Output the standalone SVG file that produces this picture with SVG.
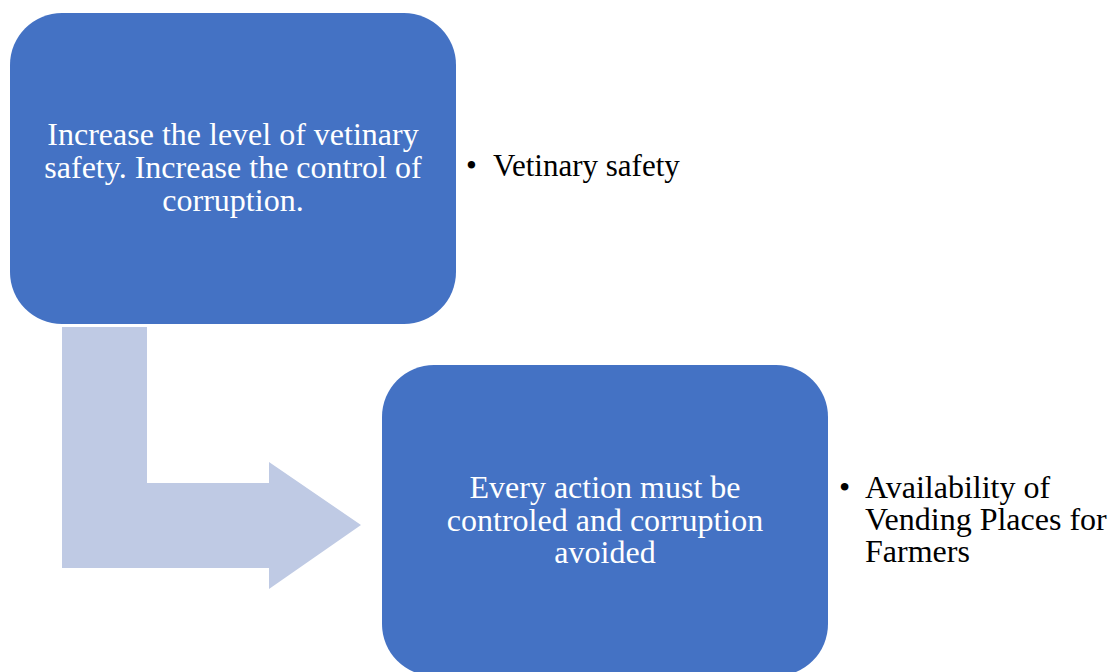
<svg xmlns="http://www.w3.org/2000/svg" width="1112" height="672" viewBox="0 0 1112 672">
<style>
.box{fill:#4472C4;}
.arrow{fill:#BFCAE4;}
.t{font-family:"Liberation Serif","Times New Roman",serif;font-size:32px;fill:#FFFFFF;text-anchor:middle;}
.b{font-family:"Liberation Serif","Times New Roman",serif;font-size:32px;fill:#000000;}
</style>
<rect width="1112" height="672" fill="#FFFFFF"/>
<g id="connectors">
<path class="arrow" d="M62,327 H147 V483 H269 V462 L361,525 L269,589 V568 H62 Z"/>
</g>
<g id="node1">
<rect class="box" x="10" y="13" width="446" height="311" rx="52" ry="52"/>
<text class="t" x="233" y="145">Increase the level of vetinary</text>
<text class="t" x="233" y="178">safety. Increase the control of</text>
<text class="t" x="233" y="211">corruption.</text>
</g>
<g id="bullet1">
<text class="b" x="466" y="176" style="font-size:31px">•</text>
<text class="b" x="493" y="176" style="font-size:31px">Vetinary safety</text>
</g>
<g id="node2">
<rect class="box" x="382" y="365" width="446" height="311" rx="52" ry="52"/>
<text class="t" x="605" y="498">Every action must be</text>
<text class="t" x="605" y="531">controled and corruption</text>
<text class="t" x="605" y="563">avoided</text>
</g>
<g id="bullet2">
<text class="b" x="839" y="498">•</text>
<text class="b" x="865" y="498">Availability of</text>
<text class="b" x="865" y="530">Vending Places for</text>
<text class="b" x="865" y="562">Farmers</text>
</g>
</svg>
